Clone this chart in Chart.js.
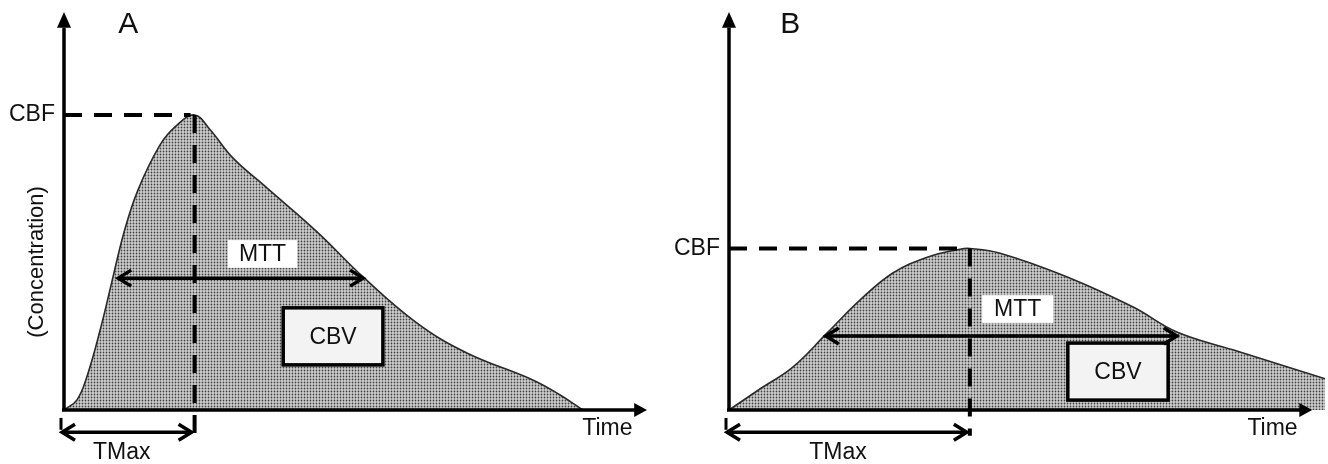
<!DOCTYPE html>
<html>
<head>
<meta charset="utf-8">
<script src="https://cdn.jsdelivr.net/npm/chart.js@4.4.0/dist/chart.umd.min.js"></script>
<style>
  html, body { margin: 0; padding: 0; background: #fff; }
  .wrap { position: relative; width: 1328px; height: 464px; }
  canvas { position: absolute; top: 0; }
  #chartA { left: 0; }
  #chartB { left: 664px; }
</style>
</head>
<body>
<div class="wrap">
  <canvas id="chartA" width="664" height="464"></canvas>
  <canvas id="chartB" width="664" height="464"></canvas>
</div>
<script>
// Panel A: normal perfusion curve (time, concentration)
const timeA = [0, 2.2, 3.9, 6.2, 8.2, 10.3, 12.7, 16.5, 19.2, 22.4, 25.1, 29.0, 34.8, 43.4, 51.3, 60.5, 69.1, 80.4, 85.1, 89.0];
const concA = [0, 2.5, 8.3, 20.2, 32.3, 44.9, 55.6, 67.0, 71.7, 74.5, 70.7, 63.6, 56.1, 45.0, 33.6, 22.0, 14.4, 7.6, 3.8, 0];

// Panel B: delayed, flattened curve
const timeB = [0, 5.3, 11.0, 16.8, 22.5, 28.1, 34.0, 39.6, 41.3, 46.5, 58.0, 69.3, 76.8, 86.4, 102.2];
const concB = [0, 5.3, 10.9, 19.4, 27.8, 34.6, 38.6, 40.6, 40.8, 39.6, 33.6, 26.0, 19.7, 15.2, 7.9];

// annotation values (data units)
const mttA = { from: 9.3, to: 51.3, level: 33.3 };
const mttB = { from: 16.6, to: 76.8, level: 18.7 };

const FONT = "'Liberation Sans', Arial, sans-serif";

function makeStipple() {
  const c = document.createElement("canvas");
  c.width = 3;
  c.height = 3;
  const g = c.getContext("2d");
  g.fillStyle = "#d0d0d0";
  g.fillRect(0, 0, 3, 3);
  g.fillStyle = "#444";
  g.beginPath();
  g.arc(1.5, 1.5, 0.9, 0, Math.PI * 2);
  g.fill();
  return g.createPattern(c, "repeat");
}

function toPoints(xs, ys) {
  return xs.map((x, i) => ({ x, y: ys[i] }));
}

function chevron(ctx, x, y, dir) {
  ctx.beginPath();
  ctx.moveTo(x - dir * 13, y - 8);
  ctx.lineTo(x, y);
  ctx.lineTo(x - dir * 13, y + 8);
  ctx.stroke();
}

function doubleArrow(ctx, x1, x2, y) {
  ctx.save();
  ctx.strokeStyle = "#000";
  ctx.lineWidth = 3.5;
  ctx.lineJoin = "miter";
  ctx.beginPath();
  ctx.moveTo(x1 + 1, y);
  ctx.lineTo(x2 - 1, y);
  ctx.stroke();
  chevron(ctx, x1, y, -1);
  chevron(ctx, x2, y, 1);
  ctx.restore();
}

function dashed(ctx, x1, y1, x2, y2) {
  ctx.save();
  ctx.strokeStyle = "#000";
  ctx.lineWidth = 4;
  ctx.setLineDash([18, 12]);
  ctx.beginPath();
  ctx.moveTo(x1, y1);
  ctx.lineTo(x2, y2);
  ctx.stroke();
  ctx.restore();
}

function text(ctx, str, x, y, size, align) {
  ctx.save();
  ctx.fillStyle = "#111";
  ctx.font = `${size}px ${FONT}`;
  ctx.textAlign = align || "center";
  ctx.textBaseline = "middle";
  ctx.fillText(str, x, y);
  ctx.restore();
}

function overlayPlugin(spec) {
  return {
    id: "overlay" + spec.letter,
    afterDatasetsDraw(chart) {
      const ctx = chart.ctx;
      const xs = chart.scales.x;
      const ys = chart.scales.y;
      const px = (v) => xs.getPixelForValue(v);
      const py = (v) => ys.getPixelForValue(v);
      const x0 = px(0);
      const y0 = py(0);

      // boxes
      ctx.save();
      const mb = spec.mttBox;
      ctx.fillStyle = "#fff";
      ctx.fillRect(px(mb[0]), py(mb[1]), px(mb[2]) - px(mb[0]), py(mb[3]) - py(mb[1]));
      const cb = spec.cbvBox;
      ctx.fillStyle = "#f3f3f3";
      ctx.fillRect(px(cb[0]), py(cb[1]), px(cb[2]) - px(cb[0]), py(cb[3]) - py(cb[1]));
      ctx.strokeStyle = "#000";
      ctx.lineWidth = 3.5;
      ctx.strokeRect(px(cb[0]), py(cb[1]), px(cb[2]) - px(cb[0]), py(cb[3]) - py(cb[1]));
      ctx.restore();
      text(ctx, "MTT", (px(mb[0]) + px(mb[2])) / 2, (py(mb[1]) + py(mb[3])) / 2 + 1, 23);
      text(ctx, "CBV", (px(cb[0]) + px(cb[2])) / 2, (py(cb[1]) + py(cb[3])) / 2 + 1, 23);

      // dashed CBF / TMax guides
      dashed(ctx, x0, py(spec.cbf), px(spec.tmax) - 4, py(spec.cbf));
      dashed(ctx, px(spec.tmax), py(spec.cbf), px(spec.tmax), py(-6.5));

      // MTT arrow
      doubleArrow(ctx, px(spec.mtt.from), px(spec.mtt.to), py(spec.mtt.level));

      // axes
      ctx.save();
      ctx.strokeStyle = "#000";
      ctx.fillStyle = "#000";
      ctx.lineWidth = 3.5;
      ctx.beginPath();
      ctx.moveTo(x0, y0 + 1.5);
      ctx.lineTo(x0, py(96.5));
      ctx.moveTo(x0 - 2, y0);
      ctx.lineTo(px(98), y0);
      ctx.stroke();
      ctx.beginPath();
      ctx.moveTo(x0, py(100) - 2);
      ctx.lineTo(x0 - 7, py(96.5));
      ctx.lineTo(x0 + 7, py(96.5));
      ctx.closePath();
      ctx.fill();
      ctx.beginPath();
      ctx.moveTo(px(100), y0);
      ctx.lineTo(px(97.8), y0 - 7);
      ctx.lineTo(px(97.8), y0 + 7);
      ctx.closePath();
      ctx.fill();
      // TMax tick
      ctx.lineWidth = 3;
      ctx.beginPath();
      ctx.moveTo(x0 - 3, py(-2));
      ctx.lineTo(x0 - 3, py(-5));
      ctx.stroke();
      ctx.restore();

      // TMax arrow
      doubleArrow(ctx, x0 - 2, px(spec.tmax) - 3, py(-5.6));

      // labels
      text(ctx, spec.letter, px(spec.letterAt[0]), py(spec.letterAt[1]), 30);
      text(ctx, "CBF", x0 - 9, py(spec.cbf), 23, "right");
      text(ctx, "Time", px(93.2), py(-4.6), 23);
      text(ctx, "TMax", px(spec.tmaxLabel), py(-10.7), 23);
      if (spec.yTitle) {
        ctx.save();
        ctx.translate(x0 - 27, py(37.4));
        ctx.rotate(-Math.PI / 2);
        text(ctx, "(Concentration)", 0, 0, 22);
        ctx.restore();
      }
    }
  };
}

function buildChart(id, xs, ys, xMax, padding, spec) {
  return new Chart(document.getElementById(id), {
    type: "line",
    data: {
      datasets: [
        {
          data: toPoints(xs, ys),
          borderColor: "#2a2a2a",
          borderWidth: 1.6,
          backgroundColor: makeStipple(),
          fill: "origin",
          pointRadius: 0,
          tension: 0.4,
          clip: false
        }
      ]
    },
    options: {
      responsive: false,
      animation: false,
      layout: { padding },
      scales: {
        x: { type: "linear", min: 0, max: xMax, display: false },
        y: { min: 0, max: 100, display: false }
      },
      plugins: { legend: { display: false }, tooltip: { enabled: false } }
    },
    plugins: [overlayPlugin(spec)]
  });
}

buildChart("chartA", timeA, concA, 100, { left: 64, right: 17, top: 14, bottom: 54 }, {
  letter: "A",
  letterAt: [11, 97.3],
  cbf: Math.max(...concA),
  tmax: timeA[concA.indexOf(Math.max(...concA))],
  tmaxLabel: 9.9,
  mtt: mttA,
  mttBox: [28.1, 42.9, 40.0, 35.9],
  cbvBox: [37.6, 25.8, 54.7, 11.4],
  yTitle: true
});

buildChart("chartB", timeB, concB, 102.2, { left: 65, right: 3, top: 14, bottom: 54 }, {
  letter: "B",
  letterAt: [10.5, 97.3],
  cbf: Math.max(...concB),
  tmax: timeB[concB.indexOf(Math.max(...concB))],
  tmaxLabel: 18.7,
  mtt: mttB,
  mttBox: [43.4, 29.0, 55.6, 22.0],
  cbvBox: [58.1, 16.9, 75.3, 2.5],
  yTitle: false
});
</script>
</body>
</html>
